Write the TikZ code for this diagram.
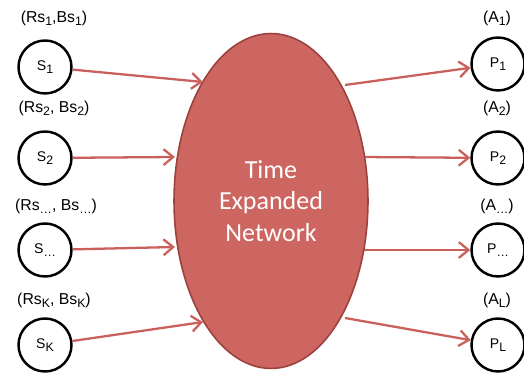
\documentclass[tikz,border=0pt]{standalone}
\usepackage{fontspec}
\setmainfont{Liberation Sans}
\newfontfamily\netfont{Carlito}
\usetikzlibrary{shapes.geometric,arrows.meta}
\definecolor{netfill}{HTML}{CD6560}
\definecolor{netdraw}{HTML}{9C423E}
\definecolor{flow}{HTML}{C9605B}
\newcommand{\low}[1]{\raisebox{-0.35ex}{\scriptsize #1}}
\tikzset{
  px/.style={x=0.02cm,y=-0.02cm},
  station/.style={circle,draw=black,line width=1.4pt,minimum size=1.06cm,inner sep=0pt,font=\fontsize{8}{9}\selectfont},
  tag/.style={font=\fontsize{9}{11}\selectfont,inner sep=0pt},
  flowarrow/.style={draw=flow,line width=1.3pt,-{Straight Barb[length=5.5pt,width=9pt,line width=1.3pt]}}
}
\begin{document}
\begin{tikzpicture}[px]
\useasboundingbox (0,0) rectangle (524,374);
% source nodes
\node[station] (s1) at (45,67) {S\low{1}};
\node[station] (s2) at (45,158) {S\low{2}};
\node[station] (s3) at (45,250) {S\low{…}};
\node[station] (s4) at (45,345) {S\low{K}};
\node[tag] (l1) at (54,18) {(Rs\low{1},Bs\low{1})};
\node[tag] (l2) at (54,108) {(Rs\low{2}, Bs\low{2})};
\node[tag] (l3) at (56,206) {(Rs\low{…}, Bs\low{…})};
\node[tag] (l4) at (54,300) {(Rs\low{K}, Bs\low{K})};
% sink nodes
\node[station] (p1) at (498,64) {P\low{1}};
\node[station] (p2) at (498,158) {P\low{2}};
\node[station] (p3) at (498,250) {P\low{…}};
\node[station] (p4) at (498,345) {P\low{L}};
\node[tag] (a1) at (497,18) {(A\low{1})};
\node[tag] (a2) at (497,108) {(A\low{2})};
\node[tag] (a3) at (497,206) {(A\low{…})};
\node[tag] (a4) at (497,300) {(A\low{L})};
% arrow end points on the network border
\coordinate (i1) at (203,82);
\coordinate (i2) at (175,157);
\coordinate (i3) at (175,247);
\coordinate (i4) at (203,322);
\coordinate (o1) at (345,85);
\coordinate (o2) at (360,157);
\coordinate (o3) at (360,250);
\coordinate (o4) at (345,318);
% outgoing lines start under the network
\draw[flowarrow] (o1) -- (p1);
\draw[flowarrow] (o2) -- (p2);
\draw[flowarrow] (o3) -- (p3);
\draw[flowarrow] (o4) -- (p4);
% the network
\node[ellipse,fill=netfill,draw=netdraw,line width=0.9pt,
      minimum width=3.88cm,minimum height=6.7cm,inner sep=0pt,
      text=white,align=center,font=\netfont\fontsize{14.8}{18}\selectfont] (net) at (271,201)
      {Time\\Expanded\\Network};
% incoming arrows
\draw[flowarrow] (s1) -- (i1);
\draw[flowarrow] (s2) -- (i2);
\draw[flowarrow] (s3) -- (i3);
\draw[flowarrow] (s4) -- (i4);
\end{tikzpicture}
\end{document}
